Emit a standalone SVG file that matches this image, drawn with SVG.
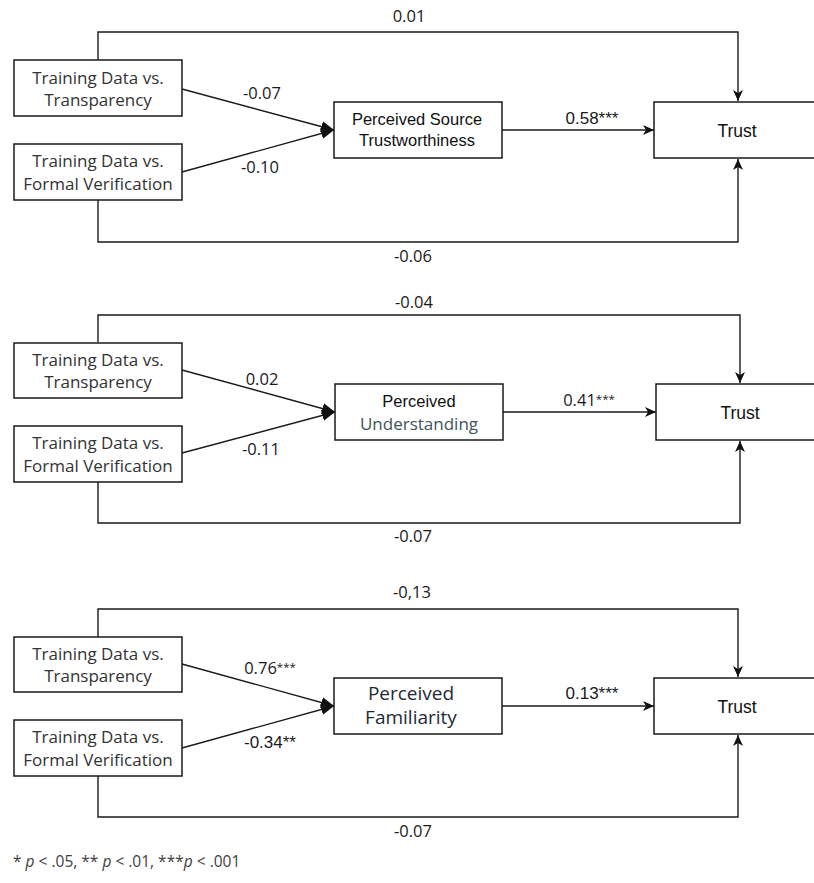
<svg xmlns="http://www.w3.org/2000/svg" width="814" height="883" viewBox="0 0 814 883">
<style>
  .box { fill: #ffffff; stroke: #1a1a1a; stroke-width: 1.5; }
  .ln { fill: none; stroke: #1a1a1a; stroke-width: 1.4; }
  .lt { font-family: "Open Sans", "Liberation Sans", sans-serif; font-size: 17px; fill: #333333; text-anchor: middle; }
  .mt { font-family: "Liberation Sans", Arial, sans-serif; font-size: 16.5px; fill: #111111; text-anchor: middle; }
  .tt { font-family: "Liberation Sans", Arial, sans-serif; font-size: 17.5px; fill: #111111; text-anchor: middle; }
  .lb { font-family: "Open Sans", "Liberation Sans", sans-serif; font-size: 16.5px; fill: #1a1a1a; text-anchor: middle; }
  .la { font-family: "Liberation Sans", Arial, sans-serif; font-size: 17px; fill: #1a1a1a; text-anchor: middle; }
  .ft { font-family: "Open Sans", "Liberation Sans", sans-serif; font-size: 15.5px; fill: #404040; }
</style>
<defs>
  <marker id="block" viewBox="0 0 13 11" refX="13" refY="5.5" markerWidth="13" markerHeight="11" markerUnits="userSpaceOnUse" orient="auto">
    <path d="M0,0 L13,5.5 L0,11 z" fill="#111111"/>
  </marker>
  <marker id="classic" viewBox="0 0 11 10" refX="11" refY="5" markerWidth="11" markerHeight="10" markerUnits="userSpaceOnUse" orient="auto">
    <path d="M0,0 L11,5 L0,10 L3,5 z" fill="#111111"/>
  </marker>
</defs>
<rect width="814" height="883" fill="#ffffff"/>

<g id="connectors">
  <!-- panel 1 -->
  <path class="ln" d="M98,60 V32 H738 V101" marker-end="url(#classic)"/>
  <path class="ln" d="M98,200 V242 H738 V159" marker-end="url(#classic)"/>
  <path class="ln" d="M182,89 L334,130" marker-end="url(#block)"/>
  <path class="ln" d="M182,172 L334,130" marker-end="url(#block)"/>
  <path class="ln" d="M502,130 H654" marker-end="url(#classic)"/>
  <!-- panel 2 -->
  <path class="ln" d="M98,342 V315 H740 V383" marker-end="url(#classic)"/>
  <path class="ln" d="M98,482 V523 H740 V441" marker-end="url(#classic)"/>
  <path class="ln" d="M182,370 L335,412" marker-end="url(#block)"/>
  <path class="ln" d="M182,453 L335,412" marker-end="url(#block)"/>
  <path class="ln" d="M503,412 H656" marker-end="url(#classic)"/>
  <!-- panel 3 -->
  <path class="ln" d="M98,637 V609 H738 V677" marker-end="url(#classic)"/>
  <path class="ln" d="M98,776 V817 H738 V735" marker-end="url(#classic)"/>
  <path class="ln" d="M182,664 L334,706" marker-end="url(#block)"/>
  <path class="ln" d="M182,748 L334,706" marker-end="url(#block)"/>
  <path class="ln" d="M502,706 H654" marker-end="url(#classic)"/>
</g>

<g id="labels">
  <text class="lb" x="409" y="22">0.01</text>
  <text class="lb" x="262" y="99">-0.07</text>
  <text class="lb" x="260" y="173">-0.10</text>
  <text class="la" x="592" y="124">0.58***</text>
  <text class="lb" x="413" y="262">-0.06</text>

  <text class="lb" x="414" y="308">-0.04</text>
  <text class="lb" x="262" y="385">0.02</text>
  <text class="lb" x="261" y="455">-0.11</text>
  <text class="lb" x="589" y="406">0.41<tspan font-size="11.5px" dy="-3">***</tspan></text>
  <text class="lb" x="413" y="542">-0.07</text>

  <text class="lb" x="412" y="598">-0,13</text>
  <text class="lb" x="270" y="674">0.76<tspan font-size="11.5px" dy="-3">***</tspan></text>
  <text class="la" x="270" y="748">-0.34**</text>
  <text class="la" x="592" y="699">0.13***</text>
  <text class="lb" x="413" y="837">-0.07</text>
</g>

<!-- panel 1 nodes -->
<g id="p1-transparency">
  <rect class="box" x="14" y="60" width="168" height="56"/>
  <text class="lt" x="98" y="84">Training Data vs.</text>
  <text class="lt" x="98" y="106">Transparency</text>
</g>
<g id="p1-formal">
  <rect class="box" x="14" y="144" width="168" height="56"/>
  <text class="lt" x="98" y="167">Training Data vs.</text>
  <text class="lt" x="98" y="190">Formal Verification</text>
</g>
<g id="p1-mediator">
  <rect class="box" x="334" y="102" width="168" height="56"/>
  <text class="mt" x="417" y="125">Perceived Source</text>
  <text class="mt" x="417" y="146">Trustworthiness</text>
</g>
<g id="p1-trust">
  <rect class="box" x="654" y="102" width="170" height="56"/>
  <text class="tt" x="737" y="137">Trust</text>
</g>

<!-- panel 2 nodes -->
<g id="p2-transparency">
  <rect class="box" x="14" y="343" width="168" height="55"/>
  <text class="lt" x="98" y="366">Training Data vs.</text>
  <text class="lt" x="98" y="388">Transparency</text>
</g>
<g id="p2-formal">
  <rect class="box" x="14" y="426" width="168" height="56"/>
  <text class="lt" x="98" y="449">Training Data vs.</text>
  <text class="lt" x="98" y="472">Formal Verification</text>
</g>
<g id="p2-mediator">
  <rect class="box" x="335" y="384" width="168" height="56"/>
  <text class="mt" x="419" y="407">Perceived</text>
  <text class="lt" x="419" y="430" style="fill:#3d5559">Understanding</text>
</g>
<g id="p2-trust">
  <rect class="box" x="656" y="384" width="170" height="56"/>
  <text class="tt" x="740" y="419">Trust</text>
</g>

<!-- panel 3 nodes -->
<g id="p3-transparency">
  <rect class="box" x="14" y="637" width="168" height="55"/>
  <text class="lt" x="98" y="660">Training Data vs.</text>
  <text class="lt" x="98" y="682">Transparency</text>
</g>
<g id="p3-formal">
  <rect class="box" x="14" y="720" width="168" height="56"/>
  <text class="lt" x="98" y="743">Training Data vs.</text>
  <text class="lt" x="98" y="766">Formal Verification</text>
</g>
<g id="p3-mediator">
  <rect class="box" x="334" y="678" width="168" height="56"/>
  <text class="lt" x="411" y="700" style="font-size:19px;fill:#1e2a36">Perceived</text>
  <text class="lt" x="411" y="724" style="font-size:19px;fill:#1e2a36">Familiarity</text>
</g>
<g id="p3-trust">
  <rect class="box" x="654" y="678" width="170" height="56"/>
  <text class="tt" x="737" y="713">Trust</text>
</g>

<g id="footnote">
  <text class="ft" x="13" y="867">* <tspan font-style="italic">p</tspan> &lt; .05, ** <tspan font-style="italic">p</tspan> &lt; .01, ***<tspan font-style="italic">p</tspan> &lt; .001</text>
</g>
</svg>
